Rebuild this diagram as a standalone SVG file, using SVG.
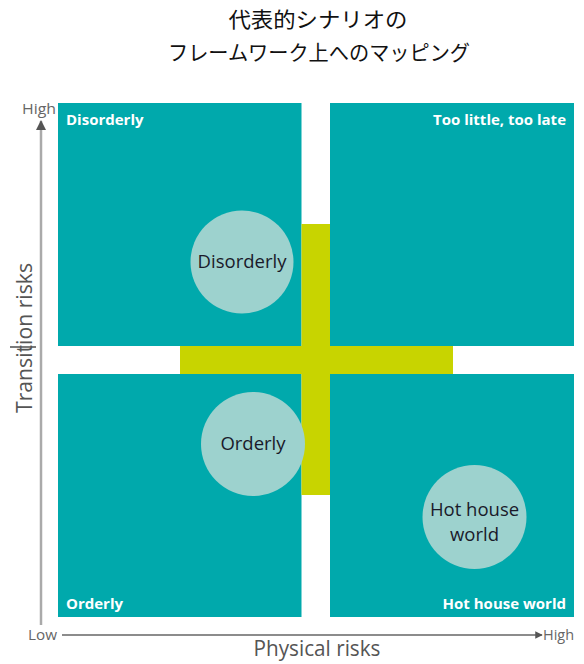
<svg xmlns="http://www.w3.org/2000/svg" width="584" height="664" viewBox="0 0 584 664">
<style>
.title{font-family:"Noto Sans CJK JP","Noto Sans",sans-serif;font-size:21px;fill:#111;text-anchor:middle}
.quad{fill:#00A9AC}
.ql{font-family:"Open Sans","Liberation Sans",sans-serif;font-weight:bold;font-size:15px;fill:#fff}
.circ{fill:#9DD2CE}
.cl{font-family:"Open Sans","Liberation Sans",sans-serif;font-size:18.5px;fill:#1a1a2a;text-anchor:middle}
.ax{stroke:#aaa;stroke-width:2.5;fill:none}
.axh{stroke:#666;stroke-width:1.5;fill:none}
.tick{font-family:"Open Sans","Liberation Sans",sans-serif;font-size:14px;fill:#666}
.al{font-family:"Open Sans","Liberation Sans",sans-serif;font-size:21px;fill:#555;text-anchor:middle}
</style>
<defs>
<marker id="arr" viewBox="0 0 10 10" refX="9" refY="5" markerWidth="4" markerHeight="4" orient="auto" markerUnits="strokeWidth">
<path d="M0,0 L10,5 L0,10 z" fill="#555"/>
</marker>
<marker id="arr2" viewBox="0 0 10 10" refX="9" refY="5" markerWidth="10" markerHeight="5" orient="auto" markerUnits="strokeWidth">
<path d="M0,0 L10,5 L0,10 z" fill="#555"/>
</marker>
</defs>
<g id="title">
<text class="title" x="318" y="27" textLength="179" lengthAdjust="spacingAndGlyphs">代表的シナリオの</text>
<text class="title" x="319" y="60" textLength="302" lengthAdjust="spacingAndGlyphs">フレームワーク上へのマッピング</text>
</g>
<g id="q-disorderly">
<rect class="quad" x="58" y="103" width="243.5" height="243"/>
<text class="ql" x="66" y="125">Disorderly</text>
</g>
<g id="q-toolittle">
<rect class="quad" x="330" y="103" width="244" height="243"/>
<text class="ql" x="566" y="125" text-anchor="end">Too little, too late</text>
</g>
<g id="q-orderly">
<rect class="quad" x="58" y="374" width="243.5" height="243"/>
<text class="ql" x="66" y="609">Orderly</text>
</g>
<g id="q-hothouse">
<rect class="quad" x="330" y="374" width="244" height="243"/>
<text class="ql" x="566" y="609" text-anchor="end">Hot house world</text>
</g>
<g id="cross" fill="#C8D400">
<rect x="301.5" y="224" width="28.5" height="271"/>
<rect x="180" y="346" width="273" height="28"/>
</g>
<g id="c-disorderly">
<circle class="circ" cx="242" cy="262" r="51.5"/>
<text class="cl" x="242" y="268">Disorderly</text>
</g>
<g id="c-orderly">
<circle class="circ" cx="253" cy="444" r="52"/>
<text class="cl" x="253" y="450">Orderly</text>
</g>
<g id="c-hothouse">
<circle class="circ" cx="474.5" cy="517" r="52"/>
<text class="cl" x="474.5" y="516">Hot house</text>
<text class="cl" x="474.5" y="541">world</text>
</g>
<g id="connectors">
<line class="ax" x1="41" y1="625" x2="41" y2="121" marker-end="url(#arr)"/>
<line class="axh" x1="62" y1="635" x2="542" y2="635" marker-end="url(#arr2)"/>
<line x1="10" y1="347" x2="36" y2="347" stroke="#222" stroke-width="1.2"/>
</g>
<g id="axis-labels">
<text class="tick" x="22" y="114" textLength="34" lengthAdjust="spacingAndGlyphs">High</text>
<text class="tick" x="28" y="640" textLength="29" lengthAdjust="spacingAndGlyphs">Low</text>
<text class="tick" x="543" y="640" textLength="31" lengthAdjust="spacingAndGlyphs">High</text>
<text class="al" x="317" y="656" textLength="127" lengthAdjust="spacingAndGlyphs">Physical risks</text>
<text class="al" transform="translate(32,338) rotate(-90)" textLength="150" lengthAdjust="spacingAndGlyphs">Transition risks</text>
</g>
</svg>
